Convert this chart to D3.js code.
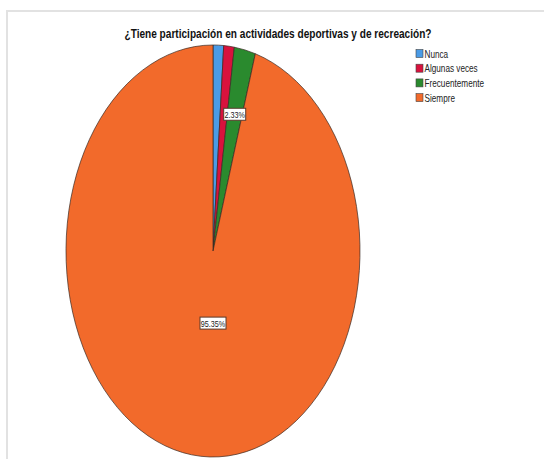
<!DOCTYPE html>
<html>
<head>
<meta charset="utf-8">
<script src="https://cdn.jsdelivr.net/npm/d3@7"></script>
<style>
  body { margin: 0; background: #fff; }
  svg { display: block; }
</style>
</head>
<body>
<div class="piechart"></div>
<script>
var width = 544,
    height = 459;

var title = "¿Tiene participación en actividades deportivas y de recreación?";
var categories = ["Nunca", "Algunas veces", "Frecuentemente", "Siempre"];
var percents = [1.16, 1.16, 2.33, 95.35];
var showLabel = [false, false, true, true];
var colors = ["#4a9be6", "#d8123d", "#2a8a2e", "#f26a2b"];

var cx = 213, cy = 251, rx = 147, ry = 206;

var color = d3.scaleOrdinal()
    .domain(categories)
    .range(colors);

var svg = d3.select(".piechart")
    .append("svg")
    .attr("width", width)
    .attr("height", height);

// light frame around the chart area
svg.append("rect")
    .attr("x", 7)
    .attr("y", 11)
    .attr("width", 560)
    .attr("height", 470)
    .attr("fill", "none")
    .attr("stroke", "#e2e2e2")
    .attr("stroke-width", 2);

svg.append("text")
    .attr("x", 278)
    .attr("y", 37.5)
    .attr("text-anchor", "middle")
    .attr("font-family", "Liberation Sans, Arial, sans-serif")
    .attr("font-weight", "bold")
    .attr("font-size", "13.5px")
    .attr("textLength", 307)
    .attr("lengthAdjust", "spacingAndGlyphs")
    .attr("fill", "#111")
    .text(title);

var data = categories.map(function(c, i){
  return {name: c, value: percents[i], label: showLabel[i]};
});

var pie = d3.pie()
    .sort(null)
    .value(function(d){ return d.value; });

var arcs = pie(data);

var arc = d3.arc()
    .innerRadius(0)
    .outerRadius(rx);

// the pie is drawn as a circle then squeezed into an ellipse
var g = svg.append("g")
    .attr("transform", "translate(" + cx + "," + cy + ") scale(1," + (ry / rx) + ")");

g.selectAll("path")
    .data(arcs)
    .enter()
    .append("path")
    .attr("d", arc)
    .attr("fill", function(d){ return color(d.data.name); })
    .attr("stroke", "#3a2a22")
    .attr("stroke-width", 0.7)
    .attr("vector-effect", "non-scaling-stroke");

// SPSS style boxed labels
var labelRadius = {"Frecuentemente": 0.68, "Siempre": 0.35};

var labels = svg.append("g")
    .selectAll("g")
    .data(arcs.filter(function(d){ return d.data.label; }))
    .enter()
    .append("g")
    .attr("transform", function(d){
      var a = d.data.name == "Siempre" ? Math.PI : (d.startAngle + d.endAngle) / 2;
      var f = labelRadius[d.data.name];
      var x = cx + Math.sin(a) * rx * f;
      var y = cy - Math.cos(a) * ry * f;
      return "translate(" + x + "," + y + ")";
    });

labels.append("text")
    .attr("text-anchor", "middle")
    .attr("dy", "0.36em")
    .attr("font-family", "Liberation Sans, Arial, sans-serif")
    .attr("font-size", "9.5px")
    .attr("fill", "#222")
    .attr("transform", "scale(0.76,1)")
    .text(function(d){ return d.data.value.toFixed(2) + "%"; });

labels.insert("rect", "text")
    .attr("x", function(d){ return d.data.name == "Siempre" ? -13 : -11; })
    .attr("y", -6)
    .attr("width", function(d){ return d.data.name == "Siempre" ? 26 : 22; })
    .attr("height", 12)
    .attr("fill", "#fff")
    .attr("stroke", "#5a3a2a")
    .attr("stroke-width", 1);

// legend
var legend = svg.append("g")
    .selectAll("g")
    .data(categories)
    .enter()
    .append("g")
    .attr("transform", function(d, i){
      return "translate(416," + (54 + i * 14.7) + ")";
    });

legend.append("rect")
    .attr("x", 0)
    .attr("y", -4.5)
    .attr("width", 7)
    .attr("height", 8)
    .attr("fill", function(d){ return color(d); })
    .attr("stroke", "#444")
    .attr("stroke-width", 0.6);

legend.append("text")
    .attr("x", 8.5)
    .attr("dy", "0.36em")
    .attr("font-family", "Liberation Sans, Arial, sans-serif")
    .attr("font-size", "10.5px")
    .attr("fill", "#222")
    .attr("transform", "scale(0.78,1) translate(" + (8.5 / 0.78 - 8.5) + ",0)")
    .text(function(d){ return d; });
</script>
</body>
</html>
